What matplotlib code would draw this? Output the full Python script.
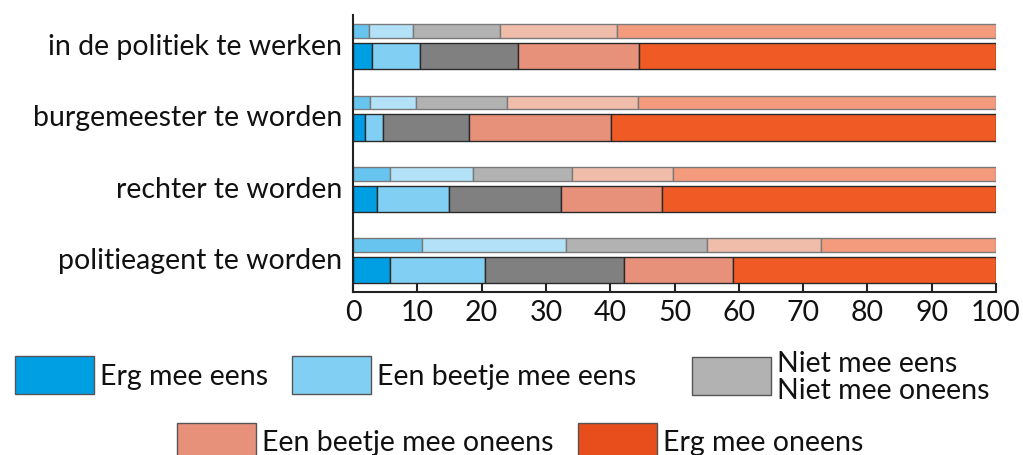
import matplotlib
matplotlib.use("Agg")
import matplotlib.pyplot as plt
from matplotlib.patches import Rectangle
import numpy as np

plt.rcParams['font.family'] = ['Lato', 'DejaVu Sans']

categories = ["in de politiek te werken", "burgemeester te worden",
              "rechter te worden", "politieagent te worden"]
legend_labels = ["Erg mee eens", "Een beetje mee eens", "Niet mee eens\nNiet mee oneens",
                 "Een beetje mee oneens", "Erg mee oneens"]

# top (thin, light) bar per category: 5 answer shares
top_erg_eens = [2.5, 2.6, 5.7, 10.8]
top_beetje_eens = [6.8, 7.2, 12.9, 22.4]
top_neutraal = [13.5, 14.2, 15.5, 21.9]
top_beetje_oneens = [18.3, 20.4, 15.7, 17.7]
top_erg_oneens = [58.9, 55.6, 50.2, 27.2]

# bottom (thick, dark) bar per category
bot_erg_eens = [2.9, 1.8, 3.7, 5.7]
bot_beetje_eens = [7.5, 2.8, 11.3, 14.8]
bot_neutraal = [15.2, 13.5, 17.3, 21.6]
bot_beetje_oneens = [18.9, 22.0, 15.7, 17.0]
bot_erg_oneens = [55.5, 59.9, 52.0, 40.9]

xticks = [0, 10, 20, 30, 40, 50, 60, 70, 80, 90, 100]

top_colors = ["#66C4EE", "#B3E2F8", "#B2B2B2", "#F0BDAA", "#F59B7D"]
bot_colors = ["#009FE3", "#82CFF4", "#808080", "#E8917A", "#F05A25"]
leg_colors = ["#009FE3", "#82CFF4", "#B2B2B2", "#E8917A", "#E84E1B"]

FS = 20.5
W, H = 1023, 455
fig = plt.figure(figsize=(W / 100, H / 100), dpi=100)
ax_l, ax_r, ax_t, ax_b = 353, 996, 15, 292
ax = fig.add_axes([ax_l / W, 1 - ax_b / H, (ax_r - ax_l) / W, (ax_b - ax_t) / H])

top_series = [top_erg_eens, top_beetje_eens, top_neutraal, top_beetje_oneens, top_erg_oneens]
bot_series = [bot_erg_eens, bot_beetje_eens, bot_neutraal, bot_beetje_oneens, bot_erg_oneens]

y = np.arange(len(categories))
top_off, top_h = -0.22, 0.19
bot_off, bot_h = 0.13, 0.37

left = np.zeros(len(categories))
for vals, c in zip(top_series, top_colors):
    ax.barh(y + top_off, vals, left=left, height=top_h, color=c,
            edgecolor="#7a7a7a", linewidth=1.0)
    left += np.array(vals)
left = np.zeros(len(categories))
for vals, c in zip(bot_series, bot_colors):
    ax.barh(y + bot_off, vals, left=left, height=bot_h, color=c,
            edgecolor="#2a2a2a", linewidth=1.0)
    left += np.array(vals)

ax.set_xlim(0, 100)
ax.set_ylim(3.436, -0.444)
ax.set_yticks(y - 0.03)
ax.set_yticklabels(categories, fontsize=FS, color="#111111")
ax.tick_params(axis="y", length=0, pad=8)
ax.set_xticks(xticks)
ax.set_xticklabels([str(t) for t in xticks], fontsize=FS, color="#111111")
ax.tick_params(axis="x", direction="in", length=6.5, width=1.5, color="#222222", pad=6)
for s in ["top", "right"]:
    ax.spines[s].set_visible(False)
for s in ["left", "bottom"]:
    ax.spines[s].set_linewidth(1.5)
    ax.spines[s].set_color("#222222")

# legend drawn in figure pixels
def add_item(x0, y0, color, label, w=79, h=38):
    fig.add_artist(Rectangle((x0 / W, 1 - (y0 + h) / H), w / W, h / H,
                             transform=fig.transFigure, facecolor=color,
                             edgecolor="#555555", linewidth=1.0))
    fig.text((x0 + w + 6) / W, 1 - (y0 + h / 2 + 1.5) / H, label, fontsize=FS,
             va="center", ha="left", color="#111111", linespacing=1.05)

leg_pos = [(15, 356), (292, 356), (692, 357), (177, 423), (578, 423)]
for (px, py), c, lab in zip(leg_pos, leg_colors, legend_labels):
    add_item(px, py, c, lab)

fig.savefig("out.png", dpi=100)
